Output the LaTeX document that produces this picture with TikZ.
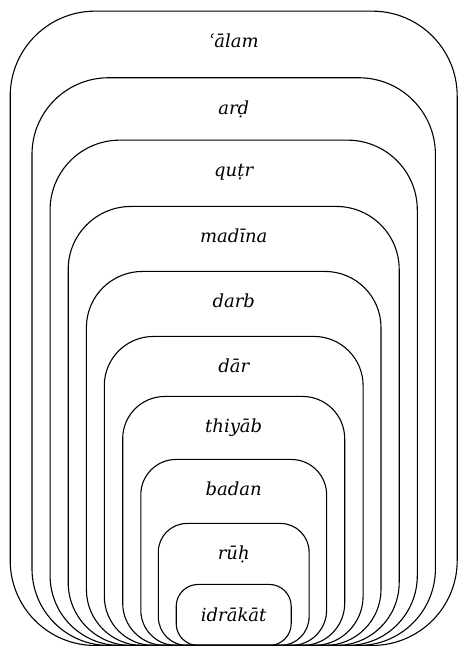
\documentclass[tikz,border=0pt]{standalone}
\usepackage{fontspec}
\setmainfont{DejaVu Serif}
\begin{document}
\begin{tikzpicture}[x=1pt,y=1pt,
  layer/.style={draw=black, line width=1.1pt, fill=none, anchor=south, inner sep=0pt},
  lab/.style={anchor=base, inner sep=0pt, font=\fontsize{18}{21}\selectfont\itshape}]
\useasboundingbox (0,0) rectangle (458,648);
\def\cx{233.7}
\foreach \n/\hw/\t/\txt in {
  1/223.5/11.7/{ʿālam},
  2/201.7/78.3/{arḍ},
  3/183.6/140.7/{quṭr},
  4/165.5/207/{madīna},
  5/147.3/272/{darb},
  6/129.4/337/{dār},
  7/111/397/{thiyāb},
  8/92.9/460/{badan},
  9/75.4/524/{rūḥ},
  10/57.5/585/{idrākāt}}{
  \pgfmathsetmacro\w{2*\hw}
  \pgfmathsetmacro\h{646-\t}
  \pgfmathsetmacro\r{0.19*\w}
  \node[layer, minimum width=\w pt, minimum height=\h pt, rounded corners=\r pt] (b\n) at (\cx,2) {};
  \node[lab] (l\n) at (\cx,648-\t-36) {\txt};
}
\end{tikzpicture}
\end{document}
